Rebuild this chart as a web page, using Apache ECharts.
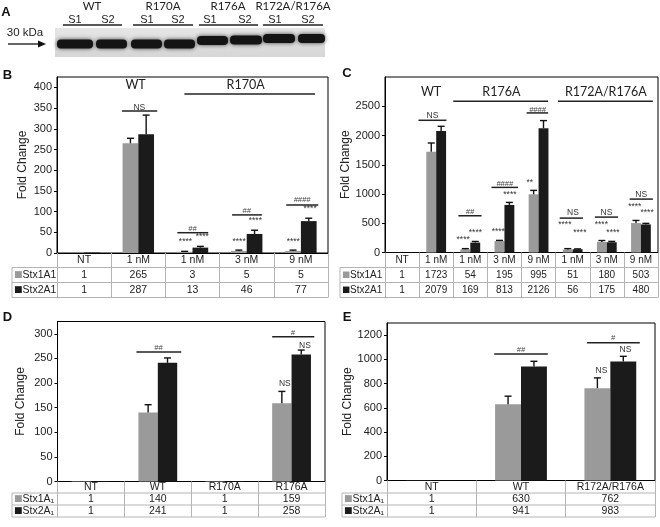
<!DOCTYPE html>
<html><head><meta charset="utf-8">
<script src="https://cdn.jsdelivr.net/npm/echarts@6/dist/echarts.min.js"></script>
<style>html,body{margin:0;padding:0;background:#fff}#c{width:660px;height:527px}</style>
</head><body><div id="c"></div>
<script>
// ---------- Panel B ----------
const bCats = ['NT', '1 nM', '1 nM', '3 nM', '9 nM'];
const bStx1 = [1, 265, 3, 5, 5];
const bStx2 = [1, 287, 13, 46, 77];
const bErr1 = [0, 12, 1, 2, 2];
const bErr2 = [0, 46, 3, 9, 7];
const bBrackets = [[1, 343, -0.30, 0.35], [2, 49, -0.28, 0.29], [3, 92, -0.27, 0.28], [4, 116, -0.27, 0.32], [3, 384, -1.15, 1.26]];
const bNotes = [[1, 405, -0.05, 'WT', 'g'], [3, 405, -0.02, 'R170A', 'g'], [1, 352, 0.02, 'NS', 'n'],
  [2, 58, 0, '##', 'h'], [2, 27, -0.13, '****', 's'], [2, 39, 0.18, '****', 's'],
  [3, 102, 0, '##', 'h'], [3, 28, -0.14, '****', 's'], [3, 78, 0.16, '****', 's'],
  [4, 128, 0.02, '####', 'h'], [4, 28, -0.14, '****', 's'], [4, 106, 0.17, '****', 's']];

// ---------- Panel C ----------
const cCats = ['NT', '1 nM', '1 nM', '3 nM', '9 nM', '1 nM', '3 nM', '9 nM'];
const cStx1 = [1, 1723, 54, 195, 995, 51, 180, 503];
const cStx2 = [1, 2079, 169, 813, 2126, 56, 175, 480];
const cErr1 = [0, 149, 12, 12, 67, 15, 25, 45];
const cErr2 = [0, 78, 20, 43, 129, 6, 15, 18];
const cBrackets = [[1, 2260, -0.52, 0.30], [2, 628, -0.35, 0.33], [3, 1113, -0.38, 0.40], [4, 2386, -0.35, 0.28],
  [5, 588, -0.38, 0.30], [6, 605, -0.35, 0.33], [7, 913, -0.33, 0.35], [3, 2586, -1.5, 1.28], [6, 2586, -1.43, 1.35]];
const cNotes = [[1, 2740, -0.15, 'WT', 'g'], [3, 2740, -0.09, 'R176A', 'g'], [6, 2740, -0.03, 'R172A/R176A', 'g'],
  [1, 2340, -0.11, 'NS', 'n'], [2, 702, -0.01, '##', 'h'], [2, 217, -0.21, '****', 's'], [2, 331, 0.15, '****', 's'],
  [3, 1176, 0.01, '####', 'h'], [3, 360, -0.18, '****', 's'], [3, 987, 0.16, '****', 's'],
  [4, 2443, -0.03, '####', 'h'], [4, 1199, -0.26, '**', 's'],
  [5, 674, 0.01, 'NS', 'n'], [5, 474, -0.23, '****', 's'], [5, 342, 0.21, '****', 's'],
  [6, 685, -0.01, 'NS', 'n'], [6, 474, -0.16, '****', 's'], [6, 342, 0.18, '****', 's'],
  [7, 987, 0.01, 'NS', 'n'], [7, 788, -0.18, '****', 's'], [7, 673, 0.18, '****', 's']];

// ---------- Panel D ----------
const dCats = ['NT', 'WT', 'R170A', 'R176A'];
const dStx1 = [1, 140, 1, 159];
const dStx2 = [1, 241, 1, 258];
const dErr1 = [0, 16, 0, 24];
const dErr2 = [0, 10, 0, 9];
const dBrackets = [[1, 263, -0.32, 0.35], [3, 294, -0.29, 0.34]];
const dNotes = [[1, 272, 0.01, '##', 'h'], [3, 301, 0.02, '#', 'h'], [3, 199, -0.1, 'NS', 'n'], [3, 276, 0.2, 'NS', 'n']];

// ---------- Panel E ----------
const eCats = ['NT', 'WT', 'R172A/R176A'];
const eStx1 = [1, 630, 762];
const eStx2 = [1, 941, 983];
const eErr1 = [0, 66, 85];
const eErr2 = [0, 43, 42];
const eBrackets = [[1, 1044, -0.30, 0.30], [2, 1137, -0.26, 0.33]];
const eNotes = [[1, 1077, 0, '##', 'h'], [2, 1176, 0.03, '#', 'h'], [2, 907, -0.1, 'NS', 'n'], [2, 1077, 0.17, 'NS', 'n']];

// ---------- Panel A (blot) ----------
const blotGroups = ['WT', 'R170A', 'R176A', 'R172A/R176A'];
const blotSamples = ['S1', 'S2'];

const GRAY = '#9a9a9a', BLACK = '#1b1b1b', TXT = '#222', TBL = '#b4b4b4';
const BAR_FRAC = 0.29;

const panels = [
  {cats: bCats, s1: bStx1, s2: bStx2, e1: bErr1, e2: bErr2, br: bBrackets, notes: bNotes,
   grid: {left: 57, top: 77, width: 271, height: 176}, max: 425, interval: 50, nameGap: 28,
   rows: [14.5, 15, 15], font: 10.5, rowFont: 10.5, labels: ['Stx1A1', 'Stx2A1'], x0: 12, ys: [267.5, 282.5, 297.5]},
  {cats: cCats, s1: cStx1, s2: cStx2, e1: cErr1, e2: cErr2, br: cBrackets, notes: cNotes,
   grid: {left: 385, top: 77, width: 273, height: 175.5}, max: 3000, interval: 500, nameGap: 31,
   rows: [15, 15, 15], font: 10, rowFont: 10, labels: ['Stx1A1', 'Stx2A1'], x0: 340, ys: [267.5, 282.5, 297.5]},
  {cats: dCats, s1: dStx1, s2: dStx2, e1: dErr1, e2: dErr2, br: dBrackets, notes: dNotes,
   grid: {left: 57.5, top: 321.5, width: 267.5, height: 160}, max: 325, interval: 50, nameGap: 31,
   rows: [11.5, 12, 12], font: 10.5, rowFont: 10.5, labels: ['Stx1A\u2081', 'Stx2A\u2081'], x0: 12, ys: [493, 505, 517]},
  {cats: eCats, s1: eStx1, s2: eStx2, e1: eErr1, e2: eErr2, br: eBrackets, notes: eNotes,
   grid: {left: 387, top: 323, width: 268, height: 157.5}, max: 1300, interval: 200, nameGap: 31.5,
   rows: [12.5, 12, 12], font: 10.5, rowFont: 10.5, labels: ['Stx1A\u2081', 'Stx2A\u2081'], x0: 342, ys: [493, 505, 517]}
];

const noteStyle = {
  g: {fontSize: 12.5, fontFamily: 'Lato', fill: TXT},
  n: {fontSize: 8.5, fontFamily: 'Liberation Sans', fill: '#333'},
  s: {fontSize: 8.5, fontFamily: 'Liberation Sans', fill: '#333'},
  h: {fontSize: 7.5, fontFamily: 'Liberation Sans', fill: '#444', fontStyle: 'italic'}
};

function errRender(params, api) {
  const cat = api.value(0), v = api.value(1), e = api.value(2), side = api.value(3);
  if (!e) return null;
  const bw = api.size([1, 0])[0];
  const top = api.coord([cat, v + e]);
  const base = api.coord([cat, v]);
  const x = top[0] + side * bw * BAR_FRAC / 2;
  const cap = 3.5;
  return {type: 'group', children: [
    {type: 'line', shape: {x1: x, y1: base[1], x2: x, y2: top[1]}, style: {stroke: '#111', lineWidth: 1.4}},
    {type: 'line', shape: {x1: x - cap, y1: top[1], x2: x + cap, y2: top[1]}, style: {stroke: '#111', lineWidth: 1.4}}
  ]};
}
function bracketRender(params, api) {
  const bw = api.size([1, 0])[0];
  const p = api.coord([api.value(0), api.value(1)]);
  return {type: 'line', shape: {x1: p[0] + api.value(2) * bw, y1: p[1], x2: p[0] + api.value(3) * bw, y2: p[1]},
    style: {stroke: '#222', lineWidth: 1.5}};
}
function noteRenderFor(notes) {
  return function (params, api) {
    const n = notes[params.dataIndex];
    const bw = api.size([1, 0])[0];
    const p = api.coord([api.value(0), api.value(1)]);
    const st = noteStyle[n[4]];
    return {type: 'text', style: Object.assign({text: n[3], x: p[0] + api.value(2) * bw, y: p[1],
      align: 'center', verticalAlign: 'middle'}, st)};
  };
}

const grids = [], xAxes = [], yAxes = [], series = [], graphic = [];
panels.forEach((p, i) => {
  const g = p.grid;
  grids.push({left: g.left, top: g.top, width: g.width, height: g.height, show: true,
    borderColor: '#000', borderWidth: 1, backgroundColor: '#fff'});
  const tickLen = p.ys[2] - (g.top + g.height);
  xAxes.push({gridIndex: i, type: 'category', data: p.cats,
    axisLine: {lineStyle: {color: '#000', width: 1}},
    axisTick: {show: true, interval: 0, length: tickLen, lineStyle: {color: TBL}},
    axisLabel: {interval: 0, margin: 0, hideOverlap: false,
      formatter: (v, idx) => `{h|${v}}\n{v|${p.s1[idx]}}\n{w|${p.s2[idx]}}`,
      rich: {h: {fontSize: p.font, lineHeight: p.rows[0], color: TXT},
             v: {fontSize: p.font, lineHeight: p.rows[1], color: TXT},
             w: {fontSize: p.font, lineHeight: p.rows[2], color: TXT}}},
    splitLine: {show: false}});
  yAxes.push({gridIndex: i, type: 'value', min: 0, max: p.max, interval: p.interval,
    axisLine: {show: true, lineStyle: {color: '#000'}},
    axisTick: {show: true, length: 3, lineStyle: {color: '#000'}},
    axisLabel: {fontSize: 11, color: TXT, margin: 5, showMaxLabel: false, formatter: v => String(v)},
    splitLine: {show: false},
    name: 'Fold Change', nameLocation: 'middle', nameGap: p.nameGap,
    nameTextStyle: {fontSize: 12, color: TXT}});
  series.push({type: 'bar', name: 'Stx1A1', xAxisIndex: i, yAxisIndex: i, data: p.s1,
    barWidth: (BAR_FRAC * 100) + '%', barGap: '0%', itemStyle: {color: GRAY}, silent: true});
  series.push({type: 'bar', name: 'Stx2A1', xAxisIndex: i, yAxisIndex: i, data: p.s2,
    barWidth: (BAR_FRAC * 100) + '%', barGap: '0%', itemStyle: {color: BLACK}, silent: true});
  series.push({type: 'custom', xAxisIndex: i, yAxisIndex: i, z: 5, silent: true,
    data: p.s1.map((v, k) => [k, v, p.e1[k], -1]).concat(p.s2.map((v, k) => [k, v, p.e2[k], 1])),
    encode: {x: 0, y: 1}, renderItem: errRender});
  series.push({type: 'custom', xAxisIndex: i, yAxisIndex: i, z: 5, silent: true,
    data: p.br, encode: {x: 0, y: 1}, renderItem: bracketRender});
  series.push({type: 'custom', xAxisIndex: i, yAxisIndex: i, z: 6, silent: true,
    data: p.notes.map(n => [n[0], n[1], n[2]]), encode: {x: 0, y: 1}, renderItem: noteRenderFor(p.notes)});

  // table frame lines (left label column and row separators)
  const xr = g.left + g.width;
  p.ys.forEach(y => graphic.push({type: 'line', silent: true,
    shape: {x1: p.x0, y1: y, x2: xr, y2: y}, style: {stroke: TBL, lineWidth: 1}}));
  graphic.push({type: 'line', silent: true, shape: {x1: p.x0, y1: p.ys[0], x2: p.x0, y2: p.ys[2]},
    style: {stroke: TBL, lineWidth: 1}});
  [[GRAY, p.labels[0], (p.ys[0] + p.ys[1]) / 2], [BLACK, p.labels[1], (p.ys[1] + p.ys[2]) / 2]].forEach(r => {
    graphic.push({type: 'text', silent: true, style: {x: p.x0 + 2, y: r[2], verticalAlign: 'middle', align: 'left',
      text: '{a|\u25A0}{b|' + r[1] + '}',
      rich: {a: {fill: r[0], fontSize: p.rowFont - 1.5, fontFamily: 'DejaVu Sans'},
             b: {fill: TXT, fontSize: p.rowFont, fontFamily: 'Liberation Sans'}}}});
  });
});

// panel letters
[['A', 6, 12.5], ['B', 7.5, 75.5], ['C', 347, 73.5], ['D', 7.5, 317], ['E', 347, 317]].forEach(l => {
  graphic.push({type: 'text', silent: true, style: {text: l[0], x: l[1], y: l[2], align: 'center', verticalAlign: 'middle',
    fontSize: 13, fontWeight: 'bold', fontFamily: 'Liberation Sans', fill: '#111'}});
});

// Panel A: western blot
graphic.push({type: 'rect', silent: true, shape: {x: 55, y: 28, width: 270, height: 29},
  style: {fill: new echarts.graphic.LinearGradient(0, 0, 0, 1, [{offset: 0, color: '#e6e6e6'}, {offset: 1, color: '#d6d6d6'}])}});
const laneBox = [[57, 93, 44], [96, 127, 44], [131, 162, 44], [164, 195, 44], [197, 228, 40.5], [230, 262, 40], [263, 295, 38.5], [298, 325, 38.5]];
laneBox.forEach(b => graphic.push({type: 'rect', silent: true,
  shape: {x: b[0], y: b[2] - 4.5, width: b[1] - b[0], height: 9, r: 4},
  style: {fill: '#141414', shadowBlur: 4, shadowColor: 'rgba(0,0,0,0.7)'}}));
const groupCx = [92, 163, 228, 293];
blotGroups.forEach((t, k) => {
  graphic.push({type: 'text', silent: true, style: {text: t, x: groupCx[k], y: 6, align: 'center', verticalAlign: 'middle',
    fontSize: 11.5, fontFamily: 'Lato', fill: TXT}});
  const x1 = [63, 133, 199, 263][k], x2 = [122, 193, 258, 323][k];
  graphic.push({type: 'line', silent: true, shape: {x1: x1, y1: 25, x2: x2, y2: 25}, style: {stroke: '#222', lineWidth: 1.3}});
  blotSamples.forEach((s, j) => {
    graphic.push({type: 'text', silent: true, style: {text: s, x: [[75, 108], [147, 178], [210, 245], [275, 308]][k][j], y: 19.5,
      align: 'center', verticalAlign: 'middle', fontSize: 11, fontFamily: 'Liberation Sans', fill: TXT}});
  });
});
graphic.push({type: 'text', silent: true, style: {text: '30 kDa', x: 25, y: 33, align: 'center', verticalAlign: 'middle',
  fontSize: 11.5, fontFamily: 'Liberation Sans', fill: TXT}});
graphic.push({type: 'line', silent: true, shape: {x1: 8, y1: 44, x2: 40, y2: 44}, style: {stroke: '#111', lineWidth: 1.3}});
graphic.push({type: 'polygon', silent: true, shape: {points: [[46, 44], [38, 40.5], [38, 47.5]]}, style: {fill: '#111'}});

const chart = echarts.init(document.getElementById('c'), null, {renderer: 'canvas', width: 660, height: 527});
chart.setOption({
  animation: false,
  textStyle: {fontFamily: 'Liberation Sans'},
  grid: grids, xAxis: xAxes, yAxis: yAxes, series: series, graphic: graphic
});
</script>
</body></html>
